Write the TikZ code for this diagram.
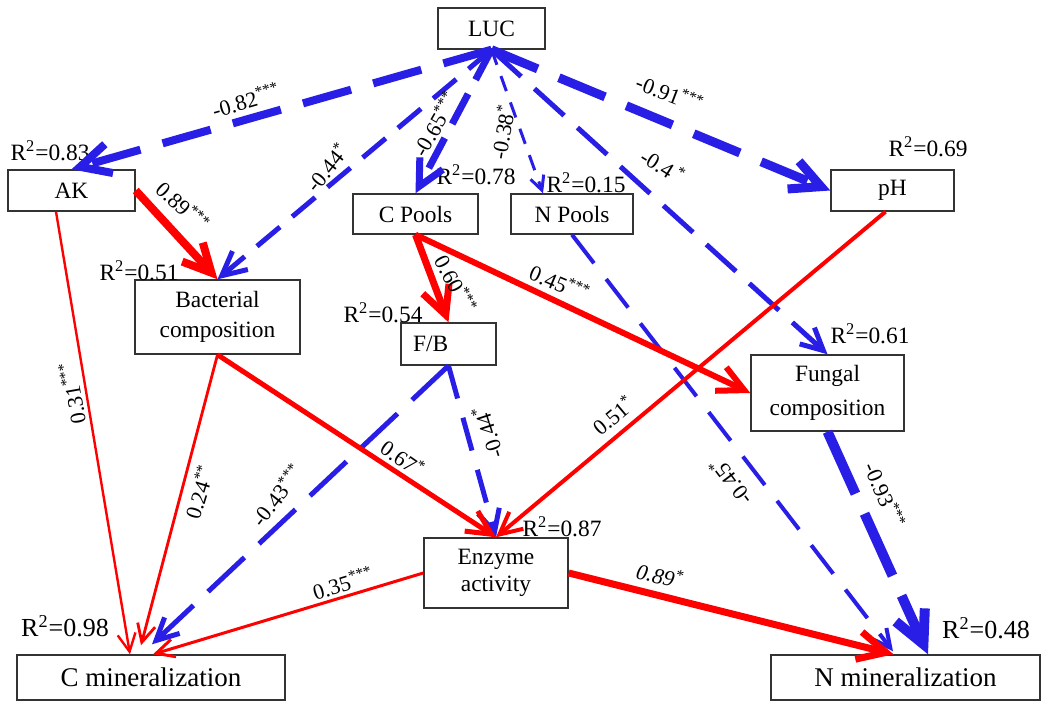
\documentclass[tikz,border=0pt]{standalone}
\usepackage{fontspec}
\setmainfont{Liberation Serif}
\usetikzlibrary{arrows.meta}
\definecolor{pathred}{RGB}{255,0,0}
\definecolor{pathblue}{RGB}{40,30,230}

\tikzset{
  var/.style={draw=black!80, line width=0.7pt, inner sep=0pt, align=center,
    font=\fontsize{11.7}{14}\selectfont},
  varbig/.style={var, font=\fontsize{13.5}{16}\selectfont},
  rsq/.style={inner sep=0pt, font=\fontsize{11.7}{14}\selectfont},
  rsqbig/.style={inner sep=0pt, font=\fontsize{13}{15}\selectfont},
  coef/.style={inner sep=0pt, font=\fontsize{11}{13}\selectfont},
  posline/.style={draw=pathred},
  negline/.style={draw=pathblue},
  barb/.style={-{Straight Barb[length=#1,width=#1]}},
}

\begin{document}
\begin{tikzpicture}[x=0.5pt,y=-0.5pt]
  \useasboundingbox (0,0) rectangle (1041,701);

% variables
  \node[var, minimum width=53.5pt, minimum height=20.5pt] (luc) at (491.5,28.5) {LUC};
  \node[var, minimum width=63.5pt, minimum height=20.5pt] (ak) at (71.5,190.5) {AK};
  \node[var, minimum width=62.5pt, minimum height=20pt] (cp) at (415.5,214) {C Pools};
  \node[var, minimum width=61pt, minimum height=20pt] (np) at (572,214) {N Pools};
  \node[var, minimum width=61.5pt, minimum height=20.5pt] (ph) at (892.5,190.5) {pH};
  \node[var, minimum width=82.5pt, minimum height=37pt, font=\fontsize{11.7}{15}\selectfont] (bact) at (217.5,317) {Bacterial\\composition};
  \node[var, minimum height=21pt, text width=35.5pt, align=left, inner xsep=6pt] (fb) at (448.5,344) {F/B};
  \node[var, minimum width=76.5pt, minimum height=38pt, font=\fontsize{11.7}{17}\selectfont] (fung) at (827.5,393) {Fungal\\composition};
  \node[var, minimum width=72pt, minimum height=35pt, font=\fontsize{11.7}{13.5}\selectfont] (enz) at (496,573) {Enzyme\\activity};
  \node[varbig, minimum width=134pt, minimum height=22.5pt] (cmin) at (151,677.5) {C mineralization};
  \node[varbig, minimum width=134.5pt, minimum height=22.5pt] (nmin) at (905.5,677.5) {N mineralization};

% R squared
  \node[rsq] (rak) at (50,151) {R\textsuperscript{2}=0.83};
  \node[rsq] (rcp) at (476,175) {R\textsuperscript{2}=0.78};
  \node[rsq] (rnp) at (586,183) {R\textsuperscript{2}=0.15};
  \node[rsq] (rph) at (928,147) {R\textsuperscript{2}=0.69};
  \node[rsq] (rbact) at (139,271) {R\textsuperscript{2}=0.51};
  \node[rsq] (rfb) at (383,313) {R\textsuperscript{2}=0.54};
  \node[rsq] (rfung) at (870,334) {R\textsuperscript{2}=0.61};
  \node[rsq] (renz) at (562,527) {R\textsuperscript{2}=0.87};
  \node[rsqbig] (rcmin) at (65,626) {R\textsuperscript{2}=0.98};
  \node[rsqbig] (rnmin) at (986,628) {R\textsuperscript{2}=0.48};

% negative paths (dashed)
  \draw[negline, line width=4pt, dash pattern=on 25pt off 11.5pt, barb=15pt] (luc.south) -- (ak.north);
  \draw[negline, line width=2.5pt, dash pattern=on 15pt off 8pt, barb=12pt] (luc.south) -- (bact.north);
  \draw[negline, line width=3.5pt, dash pattern=on 17pt off 8pt, barb=13pt] (luc.south) -- (cp.north);
  \draw[negline, line width=1.5pt, dash pattern=on 8pt off 6pt, barb=7pt] (luc.south) -- ([xshift=-14.5pt]np.north);
  \draw[negline, line width=4.5pt, dash pattern=on 25pt off 11.5pt, barb=15pt] (luc.south) -- (ph.west);
  \draw[negline, line width=2.5pt, dash pattern=on 20pt off 9pt, barb=11pt] (luc.south) -- (fung.north);
  \draw[negline, line width=2.5pt, dash pattern=on 25pt off 10pt, barb=11pt] (fb.south) -- ([xshift=0.5pt,yshift=5pt]cmin.north);
  \draw[negline, line width=2.5pt, dash pattern=on 17pt off 10pt, barb=11pt] (fb.south) -- (enz.north);
  \draw[negline, line width=2pt, dash pattern=on 18pt off 10pt, barb=9pt] (np.south) -- ([xshift=-6.25pt,yshift=1.5pt]nmin.north);
  \draw[negline, line width=5pt, dash pattern=on 34pt off 11pt, barb=16pt] (fung.south) -- ([xshift=11.25pt]nmin.north);

% positive paths (solid)
  \draw[posline, line width=4pt, barb=14pt] (ak.east) -- (bact.north);
  \draw[posline, line width=1.2pt, barb=9pt] ([xshift=-7.75pt]ak.south) -- ([xshift=-10.5pt]cmin.north);
  \draw[posline, line width=1.4pt, barb=9pt] (bact.south) -- ([xshift=-5pt,yshift=4.5pt]cmin.north);
  \draw[posline, line width=2.5pt, barb=12pt] (bact.south) -- (enz.north);
  \draw[posline, line width=3.5pt, barb=14pt] (cp.south) -- (fb.north);
  \draw[posline, line width=3pt, barb=13pt] (cp.south) -- (fung.west);
  \draw[posline, line width=2pt, barb=11pt] ([xshift=-3.5pt]ph.south) -- (enz.north);
  \draw[posline, line width=1.5pt, barb=9pt] (enz.west) -- ([xshift=1pt]cmin.north);
  \draw[posline, line width=3.5pt, barb=14pt] (enz.east) -- ([xshift=-6pt]nmin.north);

% path coefficients
  \node[coef, rotate=16] (c82) at (246,100) {-0.82\textsuperscript{***}};
  \node[coef, rotate=51] (c44a) at (327,167) {-0.44\textsuperscript{*}};
  \node[coef, rotate=60] (c65) at (435,124) {-0.65\textsuperscript{***}};
  \node[coef, rotate=80] (c38) at (502,132) {-0.38\textsuperscript{*}};
  \node[coef, rotate=-21] (c91) at (670,93) {-0.91\textsuperscript{***}};
  \node[coef, rotate=-32] (c4) at (663,166) {-0.4\,\textsuperscript{*}};
  \node[coef, rotate=-43] (c89a) at (183,206) {0.89\textsuperscript{***}};
  \node[coef, rotate=100] (c31) at (72,393) {0.31\textsuperscript{***}};
  \node[coef, rotate=73] (c24) at (199,492) {0.24\textsuperscript{**}};
  \node[coef, rotate=52] (c43) at (277,495) {-0.43\textsuperscript{***}};
  \node[coef, rotate=-35] (c67) at (403,458) {0.67\textsuperscript{*}};
  \node[coef, rotate=108] (c44b) at (487,432) {-0.44\textsuperscript{*}};
  \node[coef, rotate=-62] (c60) at (456,284) {0.60\textsuperscript{***}};
  \node[coef, rotate=-23] (c45a) at (560,283) {0.45\textsuperscript{***}};
  \node[coef, rotate=40] (c51) at (613,415) {0.51\textsuperscript{*}};
  \node[coef, rotate=127] (c45b) at (730,482) {-0.45\textsuperscript{*}};
  \node[coef, rotate=-67] (c93) at (885,495) {-0.93\textsuperscript{***}};
  \node[coef, rotate=17] (c35) at (343,583) {0.35\textsuperscript{***}};
  \node[coef, rotate=-13, font=\fontsize{11}{13}\selectfont\itshape] (c89b) at (660,575) {0.89\textsuperscript{*}};

\end{tikzpicture}
\end{document}
